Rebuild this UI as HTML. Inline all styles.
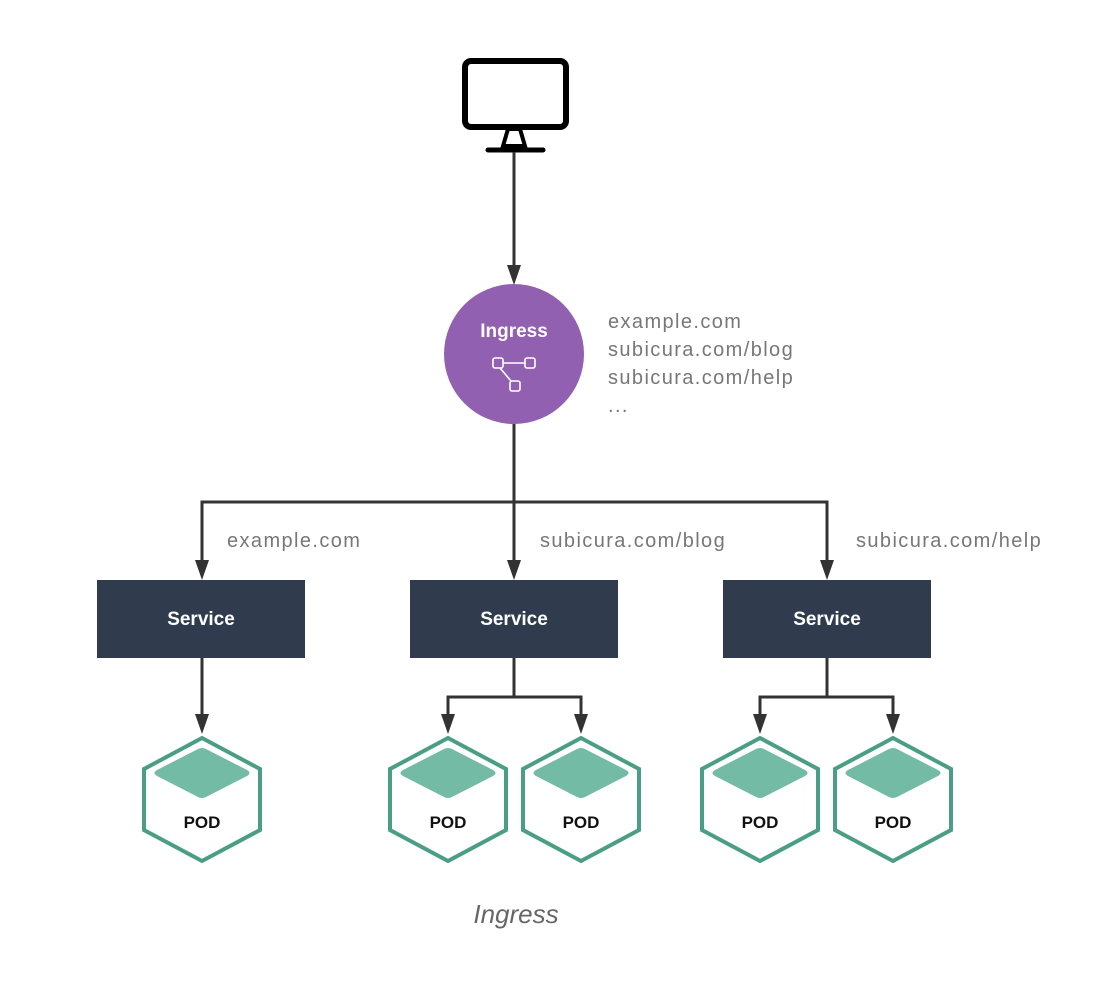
<!DOCTYPE html>
<html><head><style>
html,body{margin:0;padding:0;background:#fff;}
svg{display:block;}
text{font-family:"Liberation Sans",sans-serif;}
</style></head><body>
<svg width="1116" height="982" viewBox="0 0 1116 982">
<defs>
<g id="pod">
<polygon points="0,-59 58,-28 58,33 0,64 -58,33 -58,-28" fill="#fff" stroke="#4a9e85" stroke-width="4"/>
<path d="M-4,-48 Q0,-50 4,-48 L45,-27 Q50,-24 45,-21 L4,0 Q0,2 -4,0 L-45,-21 Q-50,-24 -45,-27 Z" fill="#74bba6"/>
</g>
<g id="ah"><polygon points="-7,-20 7,-20 0,0" fill="#333"/></g>
</defs>
<!-- monitor -->
<rect x="465" y="61" width="101" height="66" rx="6" fill="none" stroke="#000" stroke-width="6"/>
<polygon points="508,129 520,129 525,146 503,146" fill="none" stroke="#000" stroke-width="4"/>
<line x1="488" y1="150" x2="543" y2="150" stroke="#000" stroke-width="5" stroke-linecap="round"/>
<!-- connectors -->
<g stroke="#333" stroke-width="3" fill="none">
<line x1="514" y1="152" x2="514" y2="268"/>
<line x1="514" y1="424" x2="514" y2="562"/>
<polyline points="202,562 202,502 827,502 827,562"/>
<line x1="202" y1="658" x2="202" y2="716"/>
<polyline points="448,716 448,697 581,697 581,716"/>
<line x1="514" y1="658" x2="514" y2="697"/>
<polyline points="760,716 760,697 893,697 893,716"/>
<line x1="827" y1="658" x2="827" y2="697"/>
</g>
<use href="#ah" x="514" y="285"/>
<use href="#ah" x="202" y="580"/><use href="#ah" x="514" y="580"/><use href="#ah" x="827" y="580"/>
<use href="#ah" x="202" y="734"/><use href="#ah" x="448" y="734"/><use href="#ah" x="581" y="734"/>
<use href="#ah" x="760" y="734"/><use href="#ah" x="893" y="734"/>
<!-- ingress -->
<circle cx="514" cy="354" r="70" fill="#9160b0"/>
<text x="514" y="337" text-anchor="middle" font-size="19" font-weight="bold" fill="#fff">Ingress</text>
<g fill="none" stroke="#fff" stroke-width="1.6">
<rect x="493" y="358" width="10" height="10" rx="2"/>
<rect x="525" y="358" width="10" height="10" rx="2"/>
<rect x="510" y="381" width="10" height="10" rx="2"/>
<line x1="503" y1="363" x2="525" y2="363"/>
<line x1="500" y1="368" x2="511" y2="381"/>
</g>
<g font-size="20" fill="#777" letter-spacing="1.4">
<text x="608" y="328">example.com</text>
<text x="608" y="356">subicura.com/blog</text>
<text x="608" y="384">subicura.com/help</text>
<text x="608" y="412">...</text>
<text x="227" y="547">example.com</text>
<text x="540" y="547">subicura.com/blog</text>
<text x="856" y="547">subicura.com/help</text>
</g>
<!-- services -->
<g fill="#303c4e">
<rect x="97" y="580" width="208" height="78"/>
<rect x="410" y="580" width="208" height="78"/>
<rect x="723" y="580" width="208" height="78"/>
</g>
<g font-size="19" font-weight="bold" fill="#fff" text-anchor="middle">
<text x="201" y="625">Service</text>
<text x="514" y="625">Service</text>
<text x="827" y="625">Service</text>
</g>
<!-- pods -->
<use href="#pod" x="202" y="797"/>
<use href="#pod" x="448" y="797"/>
<use href="#pod" x="581" y="797"/>
<use href="#pod" x="760" y="797"/>
<use href="#pod" x="893" y="797"/>
<g font-size="17" font-weight="bold" fill="#111" text-anchor="middle">
<text x="202" y="828">POD</text>
<text x="448" y="828">POD</text>
<text x="581" y="828">POD</text>
<text x="760" y="828">POD</text>
<text x="893" y="828">POD</text>
</g>
<text x="516" y="923" text-anchor="middle" font-size="26" font-style="italic" fill="#666">Ingress</text>
</svg>
</body></html>
